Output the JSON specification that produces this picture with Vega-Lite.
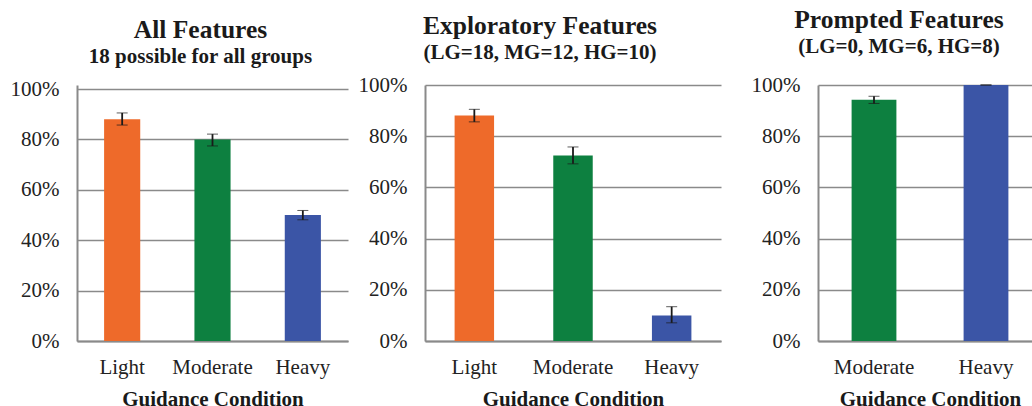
{
  "$schema": "https://vega.github.io/schema/vega-lite/v6.json",
  "padding": {"left": 10, "top": 7, "right": 0, "bottom": 0},
  "background": "white",
  "config": {
    "font": "Liberation Serif, Times New Roman, serif",
    "view": {"stroke": null},
    "title": {"font": "Liberation Serif, Times New Roman, serif", "fontSize": 25.5, "fontWeight": "bold", "color": "#1a1a1a", "subtitleFont": "Liberation Serif, Times New Roman, serif", "subtitleFontSize": 21, "subtitleFontWeight": "bold", "subtitleColor": "#1a1a1a", "subtitlePadding": 3, "anchor": "middle", "frame": "group"},
    "axis": {"labelFont": "Liberation Serif, Times New Roman, serif", "labelFontSize": 21, "labelColor": "#222222", "titleFont": "Liberation Serif, Times New Roman, serif", "titleFontSize": 21, "titleFontWeight": "bold", "titleColor": "#1a1a1a", "ticks": false, "domainColor": "#8a8a8a", "domainWidth": 2, "gridColor": "#8a8a8a", "gridWidth": 1.6}
  },
  "hconcat": [
    {
      "spacing": 10,
      "hconcat": [
        {
          "title": {"text": "All Features", "subtitle": "18 possible for all groups", "dx": -12, "offset": 11},
          "width": 271,
          "height": 256,
          "data": {"values": [
            {"Condition": "Light", "pct": 0.88, "lo": 0.857, "hi": 0.905},
            {"Condition": "Moderate", "pct": 0.80, "lo": 0.774, "hi": 0.821},
            {"Condition": "Heavy", "pct": 0.50, "lo": 0.481, "hi": 0.518}
          ]},
          "encoding": {
            "x": {"field": "Condition", "type": "nominal", "sort": ["Light", "Moderate", "Heavy"], "scale": {"paddingInner": 0.6, "paddingOuter": 0.3},
              "axis": {"title": "Guidance Condition", "labelAngle": 0, "labelBaseline": "alphabetic", "labelPadding": 32, "titleY": 64, "titleBaseline": "alphabetic", "grid": false}}
          },
          "layer": [
            {"mark": {"type": "bar"},
              "encoding": {
                "y": {"field": "pct", "type": "quantitative", "scale": {"domain": [0, 1.0159], "nice": false},
                  "axis": {"title": null, "values": [0, 0.2, 0.4, 0.6, 0.8, 1], "format": ".0%", "labelPadding": 18, "grid": true}},
                "color": {"field": "Condition", "type": "nominal", "scale": {"domain": ["Light", "Moderate", "Heavy"], "range": ["#ee6a2a", "#0d8040", "#3b55a6"]}, "legend": null}
              }},
            {"mark": {"type": "errorbar", "ticks": {"size": 11, "color": "#1a1a1a", "strokeWidth": 1.8}, "rule": {"color": "#1a1a1a", "strokeWidth": 1.8}},
              "encoding": {
                "y": {"field": "lo", "type": "quantitative"},
                "y2": {"field": "hi"}
              }}
          ]
        },
        {
          "title": {"text": "Exploratory Features", "subtitle": "(LG=18, MG=12, HG=10)", "dx": -33, "offset": 11},
          "width": 296,
          "height": 256,
          "data": {"values": [
            {"Condition": "Light", "pct": 0.881, "lo": 0.856, "hi": 0.905},
            {"Condition": "Moderate", "pct": 0.725, "lo": 0.692, "hi": 0.758},
            {"Condition": "Heavy", "pct": 0.10, "lo": 0.071, "hi": 0.134}
          ]},
          "encoding": {
            "x": {"field": "Condition", "type": "nominal", "sort": ["Light", "Moderate", "Heavy"], "scale": {"paddingInner": 0.6, "paddingOuter": 0.3},
              "axis": {"title": "Guidance Condition", "labelAngle": 0, "labelBaseline": "alphabetic", "labelPadding": 32, "titleY": 64, "titleBaseline": "alphabetic", "grid": false}}
          },
          "layer": [
            {"mark": {"type": "bar"},
              "encoding": {
                "y": {"field": "pct", "type": "quantitative", "scale": {"domain": [0, 1], "nice": false},
                  "axis": {"title": null, "values": [0, 0.2, 0.4, 0.6, 0.8, 1], "format": ".0%", "labelPadding": 18, "grid": true}},
                "color": {"field": "Condition", "type": "nominal", "scale": {"domain": ["Light", "Moderate", "Heavy"], "range": ["#ee6a2a", "#0d8040", "#3b55a6"]}, "legend": null}
              }},
            {"mark": {"type": "errorbar", "ticks": {"size": 11, "color": "#1a1a1a", "strokeWidth": 1.8}, "rule": {"color": "#1a1a1a", "strokeWidth": 1.8}},
              "encoding": {
                "y": {"field": "lo", "type": "quantitative"},
                "y2": {"field": "hi"}
              }}
          ]
        }
      ]
    },
    {
      "title": {"text": "Prompted Features", "subtitle": "(LG=0, MG=6, HG=8)", "dx": -31, "offset": 17},
      "width": 224,
      "height": 256,
      "data": {"values": [
        {"Condition": "Moderate", "pct": 0.942, "lo": 0.928, "hi": 0.956},
        {"Condition": "Heavy", "pct": 1.0, "lo": 1.0, "hi": 1.0}
      ]},
      "encoding": {
        "x": {"field": "Condition", "type": "nominal", "sort": ["Moderate", "Heavy"], "scale": {"paddingInner": 0.6, "paddingOuter": 0.3},
          "axis": {"title": "Guidance Condition", "labelAngle": 0, "labelBaseline": "alphabetic", "labelPadding": 32, "titleY": 64, "titleBaseline": "alphabetic", "grid": false}}
      },
      "layer": [
        {"mark": {"type": "bar"},
          "encoding": {
            "y": {"field": "pct", "type": "quantitative", "scale": {"domain": [0, 1], "nice": false},
              "axis": {"title": null, "values": [0, 0.2, 0.4, 0.6, 0.8, 1], "format": ".0%", "labelPadding": 18, "grid": true}},
            "color": {"field": "Condition", "type": "nominal", "scale": {"domain": ["Moderate", "Heavy"], "range": ["#0d8040", "#3b55a6"]}, "legend": null}
          }},
        {"mark": {"type": "errorbar", "ticks": {"size": 11, "color": "#1a1a1a", "strokeWidth": 1.8}, "rule": {"color": "#1a1a1a", "strokeWidth": 1.8}},
          "encoding": {
            "y": {"field": "lo", "type": "quantitative"},
            "y2": {"field": "hi"}
          }}
      ]
    }
  ],
  "spacing": 30
}
